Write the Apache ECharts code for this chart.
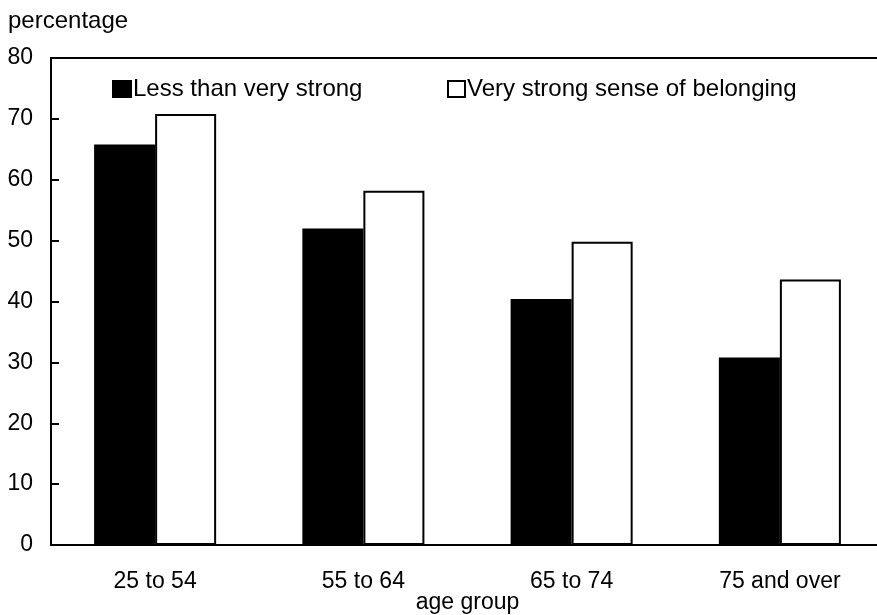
<!DOCTYPE html>
<html>
<head>
<meta charset="utf-8">
<script src="https://cdn.jsdelivr.net/npm/echarts@6/dist/echarts.min.js"></script>
<style>html,body{margin:0;padding:0;background:#fff;}#c{width:877px;height:615px;}</style>
</head>
<body>
<div id="c"></div>
<script>
var categories = ['25 to 54', '55 to 64', '65 to 74', '75 and over'];
var lessThanVeryStrong = [65.8, 52.0, 40.4, 30.8];
var veryStrong = [70.8, 58.2, 49.8, 43.6];
var seriesNames = ['Less than very strong', 'Very strong sense of belonging'];
var yTicks = [0, 10, 20, 30, 40, 50, 60, 70, 80];

var font = 'Liberation Sans, Arial, sans-serif';
var chart = echarts.init(document.getElementById('c'));
chart.setOption({
  animation: false,
  backgroundColor: '#fff',
  title: {
    text: 'percentage', left: 3, top: 4,
    textStyle: { fontFamily: font, fontSize: 24, fontWeight: 'normal', color: '#000' }
  },
  legend: [{
    data: [seriesNames[0]], left: 107, top: 72, itemWidth: 18, itemHeight: 16,
    textStyle: { fontFamily: font, fontSize: 24, color: '#000', padding: [0, 0, 0, -3] },
    icon: 'rect'
  }, {
    data: [seriesNames[1]], left: 442, top: 72, itemWidth: 17, itemHeight: 16,
    textStyle: { fontFamily: font, fontSize: 24, color: '#000', padding: [0, 0, 0, -3] },
    icon: 'rect'
  }],
  grid: {
    left: 51, width: 833, top: 58, bottom: 70, containLabel: false,
    outerBoundsMode: 'none',
    show: true, borderColor: '#000', borderWidth: 2, backgroundColor: 'transparent'
  },
  xAxis: {
    type: 'category', data: categories,
    axisLine: { lineStyle: { color: '#000', width: 2 } },
    axisTick: { show: false },
    axisLabel: { fontFamily: font, fontSize: 23, color: '#000', margin: 25 },
    name: 'age group', nameLocation: 'middle', nameGap: 46, nameMoveOverlap: false,
    nameTextStyle: { fontFamily: font, fontSize: 23, color: '#000', padding: [0, 0, 0, 0] }
  },
  yAxis: {
    type: 'value', min: 0, max: 80, interval: 10,
    axisLine: { show: true, lineStyle: { color: '#000', width: 2 } },
    axisTick: { show: true, inside: true, length: 8, lineStyle: { color: '#000', width: 2 } },
    axisLabel: { fontFamily: font, fontSize: 23, color: '#000', margin: 18,
      formatter: function (v) { return yTicks.indexOf(v) >= 0 ? String(v) : ''; } },
    splitLine: { show: false }
  },
  series: [{
    name: seriesNames[0], type: 'bar', data: lessThanVeryStrong,
    barGap: '0%', barCategoryGap: '41.4%',
    itemStyle: { color: '#000', borderColor: '#000', borderWidth: 2 }
  }, {
    name: seriesNames[1], type: 'bar', data: veryStrong,
    barGap: '0%', barCategoryGap: '41.4%',
    itemStyle: { color: '#fff', borderColor: '#000', borderWidth: 2 }
  }]
});
</script>
</body>
</html>
